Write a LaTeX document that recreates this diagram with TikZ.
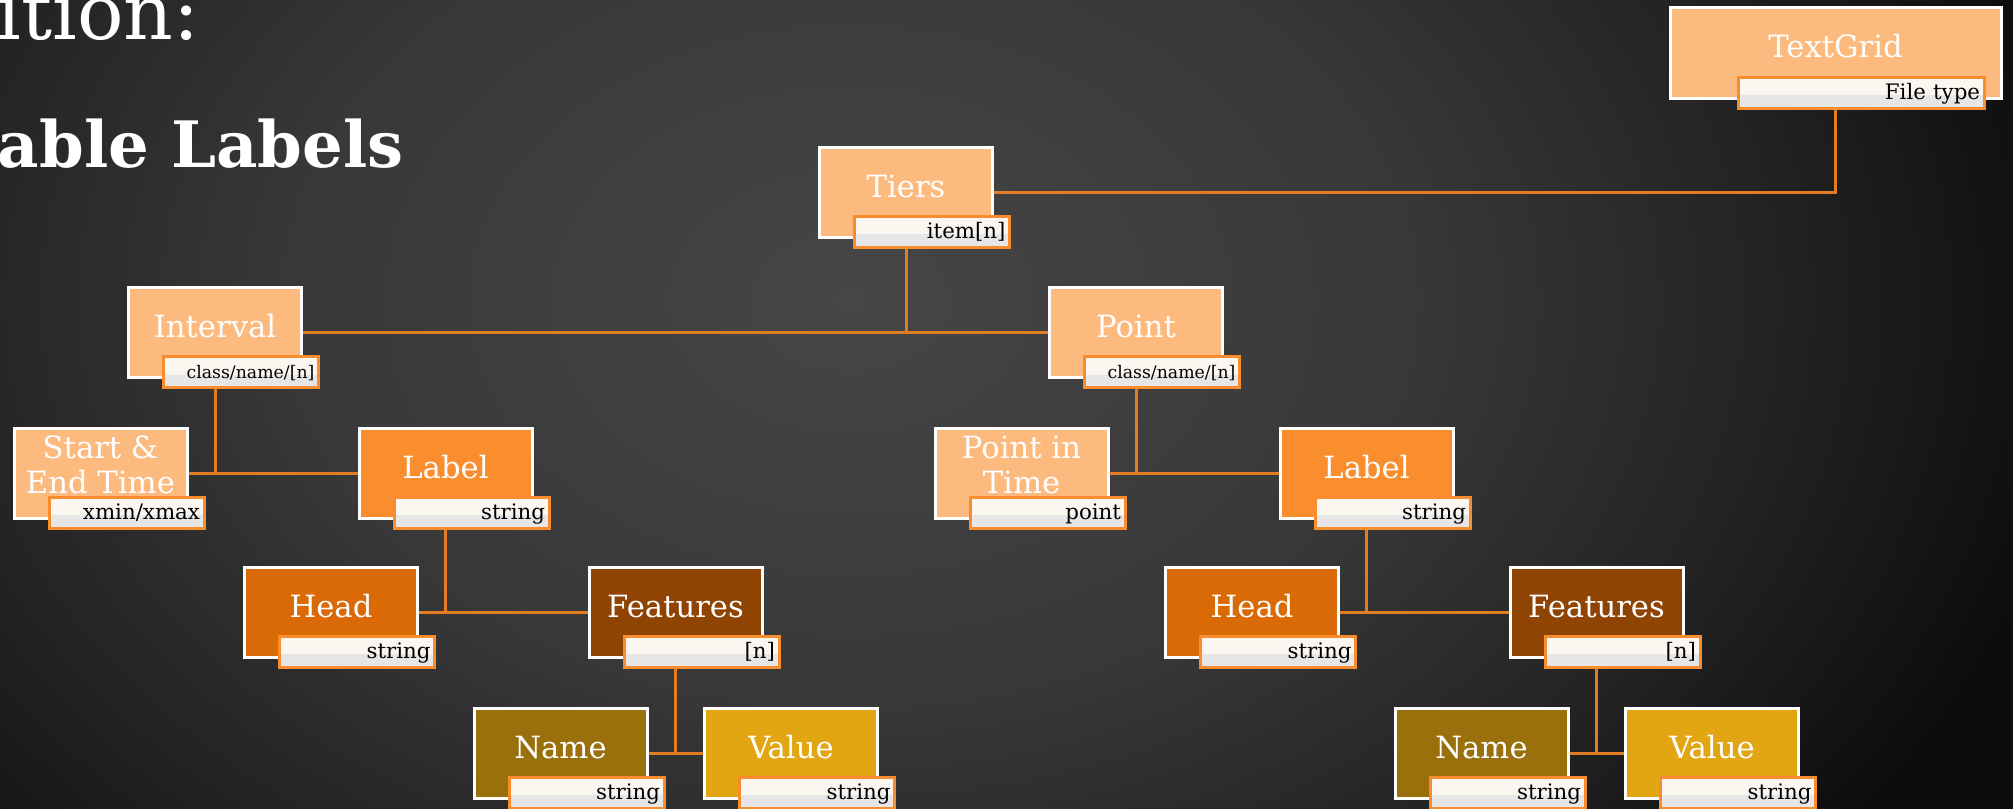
\documentclass[tikz,border=0pt]{standalone}
\usepackage{fontspec}
\setmainfont{DejaVu Serif}
\usetikzlibrary{calc}
\definecolor{lightor}{HTML}{FCBA7E}
\definecolor{midor}{HTML}{FA8E2E}
\definecolor{headc}{HTML}{D96A06}
\definecolor{featc}{HTML}{8F4404}
\definecolor{namec}{HTML}{9A700C}
\definecolor{valc}{HTML}{E1A612}
\definecolor{linec}{HTML}{E37C22}
\definecolor{lblborder}{HTML}{F98C2C}
\definecolor{lblcream}{HTML}{FCF6F0}
\definecolor{lblgray}{HTML}{E6E6E6}
\definecolor{bgA}{HTML}{464646}
\definecolor{bgB}{HTML}{383838}
\definecolor{bgC}{HTML}{222222}
\definecolor{bgD}{HTML}{0C0C0C}
\pgfdeclarelayer{bg}
\pgfdeclarelayer{lines}
\pgfsetlayers{bg,lines,main}
\pgfdeclareradialshading{bgshade}{\pgfpoint{0bp}{0bp}}{color(0bp)=(bgA); color(11.25bp)=(bgB); color(18.75bp)=(bgC); color(25bp)=(bgD); color(50bp)=(bgD)}
\tikzset{
  box/.style={draw=white, line width=2.25pt, minimum width=129.75pt, minimum height=67.5pt, inner sep=0pt, outer sep=0pt},
  boxtext/.style={text=white, font=\fontsize{23}{26}\selectfont, inner sep=0pt, anchor=base},
  lbl/.style={draw=lblborder, line width=2.25pt, fill=lblcream, minimum height=23.25pt,
    text width=110.25pt, inner xsep=3pt, inner ysep=0pt, align=right,
    text height=13pt, text depth=3pt, font=\fontsize{16}{18}\selectfont, text=black,
    anchor=south west, outer sep=0pt,
    path picture={\fill[lblgray] (path picture bounding box.south west) rectangle ([yshift=-2pt]path picture bounding box.east);}},
  conn/.style={draw=linec, line width=2.25pt},
  title/.style={text=white, inner sep=0pt, anchor=base east},
}
\begin{document}
\begin{tikzpicture}[x=0.75pt,y=-0.75pt]
\useasboundingbox (0,0) rectangle (2013,808);
\begin{pgfonlayer}{bg}
\begin{scope}
\clip (0,0) rectangle (2013,808);
\shade[shading=bgshade] (-400,-600) rectangle (2100,1200);
\end{scope}
\end{pgfonlayer}

% titles
\node[title, font=\fontsize{58}{60}\selectfont] (title1) at (200,39) {ition:};
\node[title, font=\bfseries\fontsize{48}{50}\selectfont] (title2) at (404,167) {able Labels};

% TextGrid
\node[box, fill=lightor, minimum width=248.25pt, minimum height=68.25pt] (textgrid) at (1835.5,52.5) {};
\node[boxtext] (textgrid-t) at ($(textgrid.center)+(0,5)$) {TextGrid};
\node[lbl, anchor=south east, text width=178.5pt] (textgrid-l) at ($(textgrid.south east)+(-17,10)$) {File type};

% Tiers
\node[box, fill=lightor] (tiers) at (906,192) {};
\node[boxtext] (tiers-t) at ($(tiers.center)+(0,5)$) {Tiers};
\node[lbl] (tiers-l) at ($(tiers.south west)+(35,10)$) {item[n]};

% Interval
\node[box, fill=lightor] (interval) at (215,332.5) {};
\node[boxtext] (interval-t) at ($(interval.center)+(0,5)$) {Interval};
\node[lbl, font=\fontsize{13}{15}\selectfont] (interval-l) at ($(interval.south west)+(35,10)$) {class/name/[n]};

% Point
\node[box, fill=lightor] (point) at (1136,332.5) {};
\node[boxtext] (point-t) at ($(point.center)+(0,5)$) {Point};
\node[lbl, font=\fontsize{13}{15}\selectfont] (point-l) at ($(point.south west)+(35,10)$) {class/name/[n]};

% Start & End Time
\node[box, fill=lightor] (start) at (100.5,473) {};
\node[boxtext] (start-t1) at ($(start.center)+(0,-15)$) {Start \&};
\node[boxtext] (start-t2) at ($(start.center)+(0,20)$) {End Time};
\node[lbl] (start-l) at ($(start.south west)+(35,10)$) {xmin/xmax};

% Point in Time
\node[box, fill=lightor] (pit) at (1021.5,473) {};
\node[boxtext] (pit-t1) at ($(pit.center)+(0,-15)$) {Point in};
\node[boxtext] (pit-t2) at ($(pit.center)+(0,20)$) {Time};
\node[lbl] (pit-l) at ($(pit.south west)+(35,10)$) {point};

% Labels
\node[box, fill=midor] (labelL) at (445.5,473) {};
\node[boxtext] (labelL-t) at ($(labelL.center)+(0,5)$) {Label};
\node[lbl] (labelL-l) at ($(labelL.south west)+(35,10)$) {string};
\node[box, fill=midor] (labelR) at (1366.5,473) {};
\node[boxtext] (labelR-t) at ($(labelR.center)+(0,5)$) {Label};
\node[lbl] (labelR-l) at ($(labelR.south west)+(35,10)$) {string};

% Heads
\node[box, fill=headc] (headL) at (331,612) {};
\node[boxtext] (headL-t) at ($(headL.center)+(0,5)$) {Head};
\node[lbl] (headL-l) at ($(headL.south west)+(35,10)$) {string};
\node[box, fill=headc] (headR) at (1252,612) {};
\node[boxtext] (headR-t) at ($(headR.center)+(0,5)$) {Head};
\node[lbl] (headR-l) at ($(headR.south west)+(35,10)$) {string};

% Features
\node[box, fill=featc] (featL) at (675.5,612) {};
\node[boxtext] (featL-t) at ($(featL.center)+(0,5)$) {Features};
\node[lbl] (featL-l) at ($(featL.south west)+(35,10)$) {[n]};
\node[box, fill=featc] (featR) at (1596.5,612) {};
\node[boxtext] (featR-t) at ($(featR.center)+(0,5)$) {Features};
\node[lbl] (featR-l) at ($(featR.south west)+(35,10)$) {[n]};

% Names
\node[box, fill=namec] (nameL) at (560.5,753) {};
\node[boxtext] (nameL-t) at ($(nameL.center)+(0,5)$) {Name};
\node[lbl] (nameL-l) at ($(nameL.south west)+(35,10)$) {string};
\node[box, fill=namec] (nameR) at (1481.5,753) {};
\node[boxtext] (nameR-t) at ($(nameR.center)+(0,5)$) {Name};
\node[lbl] (nameR-l) at ($(nameR.south west)+(35,10)$) {string};

% Values
\node[box, fill=valc] (valueL) at (791,753) {};
\node[boxtext] (valueL-t) at ($(valueL.center)+(0,5)$) {Value};
\node[lbl] (valueL-l) at ($(valueL.south west)+(35,10)$) {string};
\node[box, fill=valc] (valueR) at (1712,753) {};
\node[boxtext] (valueR-t) at ($(valueR.center)+(0,5)$) {Value};
\node[lbl] (valueR-l) at ($(valueR.south west)+(35,10)$) {string};

\begin{pgfonlayer}{lines}
\draw[conn] (tiers.east) -| (textgrid.south);
\draw[conn] (tiers.south) -- (tiers.south |- interval.east);
\draw[conn] (interval.east) -- (point.west);
\draw[conn] (interval.south) -- (interval.south |- start.east);
\draw[conn] (start.east) -- (labelL.west);
\draw[conn] (point.south) -- (point.south |- pit.east);
\draw[conn] (pit.east) -- (labelR.west);
\draw[conn] (labelL.south) -- (labelL.south |- headL.east);
\draw[conn] (headL.east) -- (featL.west);
\draw[conn] (labelR.south) -- (labelR.south |- headR.east);
\draw[conn] (headR.east) -- (featR.west);
\draw[conn] (featL.south) -- (featL.south |- nameL.east);
\draw[conn] (nameL.east) -- (valueL.west);
\draw[conn] (featR.south) -- (featR.south |- nameR.east);
\draw[conn] (nameR.east) -- (valueR.west);
\end{pgfonlayer}
\end{tikzpicture}
\end{document}
